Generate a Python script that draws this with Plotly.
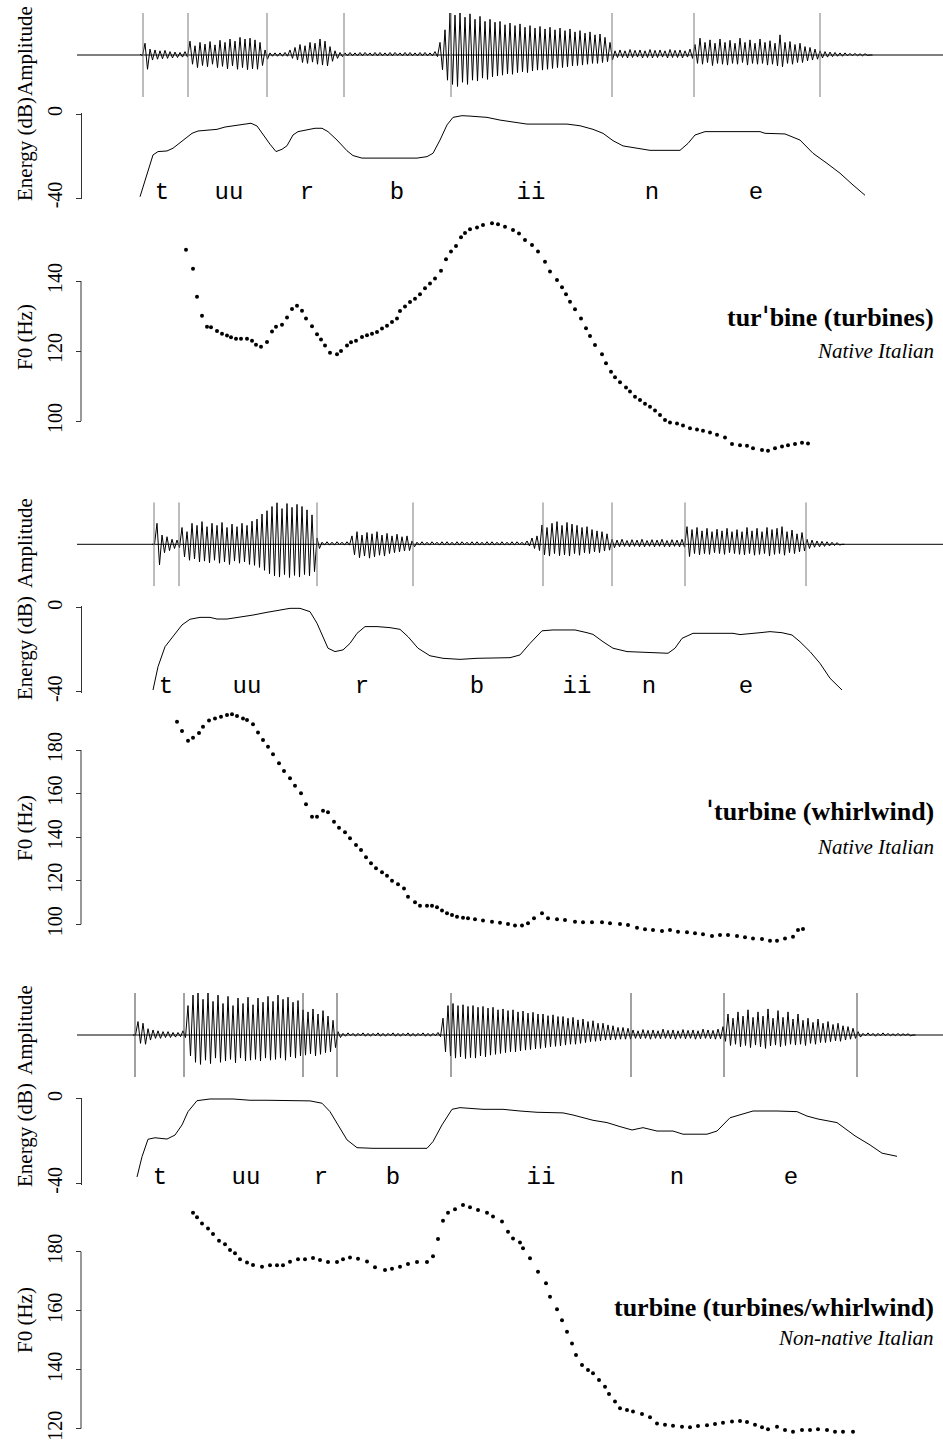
import plotly.graph_objects as go

W, H = 943, 1444

# ---------------- data ----------------
rec_span = [77, 943]                       # extent of each recording (time units)
seg_labels = ["t", "uu", "r", "b", "ii", "n", "e"]

# --- panel 1: tur'bine (turbines), native ---
wave1_t0 = 140
wave1 = [2,-2, 28,-34, 14,-12, 12,-10, 10,-9, 11,-8, 8,-7, 7,-6, 6,-5, 8,-5,
         33,-22, 22,-30, 30,-25, 26,-28, 32,-22, 24,-30, 35,-27, 30,-33, 38,-26, 33,-34,
         42,-30, 38,-35, 40,-33, 36,-34, 30,-25, 12,-10, 5,-3, 5,-3, 5,-3, 6,-3,
         12,-8, 18,-12, 25,-18, 22,-20, 30,-17, 28,-22, 38,-24, 33,-26, 20,-15, 10,-8,
         6,-4, 5,-2,
         6,-2, 5,-2, 6,-2, 6,-1, 5,-2, 6,-2, 6,-2, 5,-2, 6,-2, 6,-1, 5,-2, 6,-2, 6,-2, 5,-2, 6,-2, 6,-2, 5,-2, 8,-4,
         30,-35, 60,-60, 100,-70, 95,-75, 100,-65, 90,-70, 98,-60, 85,-62, 92,-55, 80,-58,
         85,-52, 78,-50, 80,-48, 72,-45, 76,-46, 70,-42, 74,-40, 66,-42, 70,-38, 64,-36,
         68,-36, 62,-34, 66,-32, 60,-30, 64,-30, 58,-28, 62,-26, 55,-25, 58,-24, 52,-22,
         55,-20, 48,-20, 50,-18, 42,-16, 30,-12, 10,-6,
         12,-6, 10,-7, 13,-6, 11,-5, 12,-7, 10,-6, 13,-7, 11,-6, 12,-5, 10,-7, 13,-6, 11,-6, 12,-7, 10,-5, 14,-8,
         25,-20, 40,-22, 30,-18, 36,-25, 28,-20, 38,-22, 30,-24, 35,-20, 28,-22, 40,-18,
         30,-24, 36,-20, 28,-22, 38,-20, 30,-24, 34,-22, 28,-26, 48,-28, 30,-20, 32,-22,
         25,-18, 28,-18, 20,-14, 18,-12, 14,-10, 10,-7, 8,-5, 7,-4, 6,-3, 5,-3,
         5,-2, 4,-2, 4,-2, 3,-2, 3,-1, 0,0]
bounds1 = [143, 188, 267, 344, 451, 612, 694, 820]
energy1_t = [140,147,153,158,167,173,183,192,198,208,217,225,235,245,251,257,263,270,276,282,
             287,293,298,307,315,322,328,337,347,353,362,383,417,427,433,440,447,453,462,470,
             487,500,513,527,547,567,580,593,603,613,623,637,650,667,680,688,695,705,727,760,
             765,785,800,813,827,840,853,865]
energy1_db = [-39.4,-28.2,-19.5,-17.9,-17.6,-16.3,-12.4,-9.2,-8.1,-7.8,-7.3,-6.2,-5.4,-4.8,-4.4,
              -5.7,-10.0,-14.4,-17.9,-16.8,-15.1,-10.0,-8.4,-7.6,-6.8,-6.8,-8.4,-12.4,-17.5,-19.8,
              -21.0,-21.0,-21.0,-20.3,-18.7,-12.4,-5.2,-1.6,-0.8,-1.0,-1.6,-2.9,-3.7,-4.8,-4.8,
              -4.8,-5.6,-7.3,-9.2,-12.7,-15.2,-16.3,-17.3,-17.3,-17.3,-14.0,-10.0,-8.4,-8.4,-8.4,
              -9.2,-9.5,-12.4,-18.7,-23.5,-28.2,-33.8,-38.7]
f0_1_t = [186,193,197,202,207,211,217,222,227,231,236,241,247,252,256,261,267,272,276,282,
          287,292,297,302,306,312,317,321,325,330,337,341,347,351,356,362,367,372,377,382,
          387,392,397,400,405,410,415,420,425,430,435,441,446,451,456,461,465,470,477,483,
          492,498,505,513,519,525,532,538,545,550,557,562,566,570,575,581,586,590,595,602,
          606,611,615,620,626,630,635,640,645,650,655,660,665,670,677,683,690,697,703,710,
          717,725,732,740,747,753,762,768,775,782,788,795,802,808]
f0_1_hz = [148.9,143.5,135.5,130.1,126.9,126.8,125.7,124.9,124.4,123.9,123.5,123.5,123.5,122.9,121.8,
           121.2,122.6,125.6,126.9,127.5,129.6,132.0,132.9,131.5,129.3,127.1,124.8,123.3,121.6,119.5,
           119.1,120.0,121.6,122.5,122.9,124.0,124.5,124.9,125.4,126.4,127.2,128.3,129.3,131.4,132.7,
           134.0,134.9,136.2,137.9,139.3,140.7,142.9,146.2,148.4,150.0,152.5,153.7,154.8,155.3,156.0,
           156.5,156.2,155.5,154.6,153.6,151.7,150.3,148.4,145.5,142.7,140.3,138.2,136.2,134.1,131.9,
           129.3,126.5,124.3,121.7,119.1,116.5,114.1,112.5,111.1,109.6,108.4,106.9,106.0,104.9,104.1,
           103.0,101.7,100.3,99.6,99.3,98.7,97.9,97.6,97.2,96.7,96.1,95.3,93.4,93.1,92.9,
           92.2,91.7,91.5,92.2,92.7,93.1,93.4,93.8,93.6]
seg1_t = [162, 229, 307, 397, 531, 652, 756]

# --- panel 2: 'turbine (whirlwind), native ---
wave2_t0 = 152
wave2 = [0,0, 50,-49, 22,-20, 18,-15, 12,-10, 10,-8,
         40,-30, 30,-38, 50,-35, 45,-42, 54,-40, 42,-44, 50,-38, 45,-45, 52,-42, 40,-48,
         48,-40, 42,-45, 50,-42, 45,-48, 55,-50, 60,-55, 72,-62, 80,-70, 90,-75, 99,-78,
         85,-72, 97,-79, 88,-74, 95,-78, 90,-72, 82,-75, 70,-65, 15,-10,
         5,-2, 6,-2, 5,-2, 6,-1, 5,-2, 6,-2,
         20,-25, 30,-32, 22,-28, 28,-33, 25,-30, 30,-26, 22,-28, 26,-22, 20,-20, 24,-18,
         18,-16, 20,-15, 8,-6,
         5,-2, 6,-2, 5,-2, 6,-1, 5,-2, 6,-2, 6,-2, 5,-2, 6,-2, 6,-1, 5,-2, 6,-2,
         6,-2, 5,-2, 6,-2, 6,-2, 5,-2, 6,-2, 5,-2, 6,-2, 6,-1, 5,-2, 8,-4,
         15,-10, 20,-15, 46,-25, 40,-28, 50,-22, 54,-27, 45,-25, 52,-28, 48,-22, 45,-26,
         40,-20, 42,-22, 35,-18, 32,-20, 30,-16, 25,-14, 12,-8,
         10,-6, 12,-5, 9,-6, 11,-5, 10,-6, 12,-6, 9,-5, 11,-6, 10,-5, 12,-6, 9,-6, 11,-5, 10,-6, 12,-7,
         42,-29, 35,-22, 40,-25, 32,-22, 38,-24, 30,-20, 36,-22, 32,-24, 38,-20, 30,-22,
         35,-24, 30,-25, 40,-22, 32,-26, 38,-24, 30,-22, 40,-28, 35,-24, 38,-22, 42,-26,
         30,-20, 34,-22, 25,-18, 28,-16,
         12,-10, 10,-7, 8,-6, 7,-5, 6,-4, 5,-3, 4,-2, 0,0]
bounds2 = [154, 179, 317, 413, 543, 612, 685, 806]
energy2_t = [153,158,165,173,182,190,200,210,217,227,240,253,267,280,290,300,310,317,323,328,
             335,343,350,357,365,377,390,400,408,418,430,443,460,477,510,520,530,542,553,575,
             587,593,603,613,627,640,653,668,675,682,693,713,733,740,750,760,770,782,792,800,
             810,820,830,842]
energy2_db = [-39.2,-28.1,-18.6,-13.8,-8.2,-5.5,-4.6,-4.6,-5.4,-5.4,-4.6,-3.5,-2.2,-1.1,-0.3,
              -0.3,-1.9,-7.4,-13.8,-19.3,-20.9,-20.1,-17.0,-12.2,-9.0,-9.0,-9.5,-10.3,-13.8,-19.3,
              -22.9,-24.1,-24.6,-24.1,-23.8,-22.5,-17.0,-11.0,-10.6,-10.6,-11.9,-12.7,-16.2,-19.3,-20.9,
              -21.2,-21.7,-21.7,-19.3,-14.6,-12.2,-12.2,-12.2,-12.8,-12.2,-11.9,-11.4,-11.9,-13.0,-16.2,
              -20.9,-26.5,-33.6,-39.2]
f0_2_t = [177,182,188,193,199,203,209,215,221,227,232,237,243,247,253,258,263,268,273,279,
          284,290,295,301,306,312,317,323,328,334,339,345,350,356,361,366,371,376,382,387,
          392,398,404,408,415,420,427,432,437,442,447,452,457,463,468,475,483,492,500,508,
          515,522,528,534,542,548,557,565,575,583,592,602,610,620,628,637,645,653,662,670,
          678,687,695,703,712,720,728,737,745,753,762,770,777,785,793,798,803]
f0_2_hz = [193.0,188.7,184.3,185.6,187.8,190.7,193.5,194.5,195.3,196.1,196.4,195.6,194.5,193.8,191.8,
           188.0,184.6,181.5,178.0,173.9,170.4,167.0,163.6,160.1,155.1,149.4,149.4,152.1,151.4,147.1,
           144.3,142.2,139.5,136.4,134.1,130.8,128.0,125.7,123.9,122.3,120.0,118.4,116.4,112.7,110.1,
           108.5,108.5,108.5,107.8,106.3,105.1,104.3,103.5,103.0,102.8,102.3,101.7,101.2,100.7,100.1,
           99.5,99.5,100.5,102.8,105.1,102.8,102.3,102.0,101.2,100.9,100.9,100.9,100.5,100.1,99.7,
           98.4,97.7,97.4,96.9,97.4,96.6,96.3,95.9,95.4,94.6,95.1,95.1,94.6,94.0,93.5,
           93.3,92.5,92.5,93.5,94.3,97.4,97.9]
seg2_t = [166, 247, 362, 477, 577, 649, 746]

# --- panel 3: turbine, non-native ---
wave3_t0 = 133
wave3 = [0,0, 32,-20, 28,-22, 15,-12, 12,-8, 10,-8, 8,-6, 8,-6, 6,-5, 6,-4, 10,-6,
         70,-50, 95,-65, 100,-70, 85,-60, 100,-68, 80,-55, 95,-65, 75,-62, 92,-58, 70,-66,
         88,-55, 75,-62, 90,-60, 72,-58, 88,-62, 78,-55, 92,-60, 80,-58, 95,-55, 85,-60,
         90,-52, 78,-55, 82,-50,
         60,-48, 55,-45, 62,-50, 50,-46, 58,-42, 45,-40, 35,-30, 8,-6,
         4,-3, 5,-2, 4,-3, 4,-2, 5,-3, 4,-3, 4,-2, 5,-3, 4,-3, 4,-2,
         5,-3, 4,-3, 4,-2, 5,-3, 4,-3, 4,-2, 5,-3, 4,-3, 4,-2, 6,-4,
         40,-40, 70,-50, 75,-55, 70,-52, 72,-56, 68,-54, 70,-55, 66,-50, 68,-52, 64,-48,
         66,-46, 60,-44, 62,-42, 58,-40, 60,-40, 55,-38, 57,-36, 52,-35, 54,-33, 50,-32,
         50,-30, 46,-28, 48,-27, 44,-26, 44,-24, 40,-22, 42,-22, 36,-20, 38,-18, 32,-16,
         34,-15, 28,-14, 28,-12, 24,-12, 22,-11, 18,-10, 18,-10, 16,-10,
         12,-8, 10,-9, 13,-8, 11,-10, 12,-8, 10,-9, 14,-8, 11,-9, 12,-10, 10,-8,
         13,-9, 11,-8, 12,-10, 10,-9, 14,-8, 12,-9, 11,-10, 14,-9,
         20,-15, 50,-25, 40,-22, 55,-28, 45,-25, 60,-30, 42,-24, 55,-28, 45,-32, 62,-26,
         40,-24, 58,-28, 42,-25, 55,-22, 38,-24, 50,-22, 35,-25, 40,-20, 30,-22, 38,-18,
         28,-18, 32,-16, 25,-14, 28,-15, 22,-12, 20,-10, 16,-8, 8,-5,
         4,-2, 5,-2, 4,-3, 4,-2, 5,-2, 4,-2, 3,-2, 4,-2, 3,-1, 3,-2,
         0,0]
bounds3 = [135, 184, 303, 337, 451, 631, 724, 857]
energy3_t = [137,142,148,155,167,175,182,188,197,210,233,250,267,290,310,322,330,338,347,357,
             373,400,427,433,442,452,460,483,503,520,537,563,573,593,607,620,632,643,657,673,
             683,707,717,730,753,777,797,807,818,837,855,870,882,897]
energy3_db = [-37.0,-27.4,-19.1,-18.4,-19.0,-17.1,-12.3,-6.0,-0.8,0.0,0.0,-0.6,-0.6,-0.6,-0.9,
              -2.0,-6.0,-12.3,-19.4,-23.1,-23.4,-23.4,-23.4,-20.2,-12.3,-4.9,-4.1,-4.9,-4.9,-5.7,
              -6.3,-6.6,-7.6,-10.1,-11.2,-13.1,-14.7,-13.6,-15.2,-15.2,-16.7,-16.7,-15.2,-8.9,-5.7,
              -5.7,-6.0,-8.1,-9.5,-11.2,-17.5,-21.8,-25.7,-27.2]
f0_3_t = [193,197,202,208,213,219,225,230,235,240,247,253,262,270,277,283,290,298,305,313,
          320,328,337,343,350,358,367,375,385,392,400,408,417,427,433,438,443,448,455,463,
          470,478,487,493,502,508,513,520,523,530,538,546,550,557,562,567,572,576,582,588,
          593,599,605,609,615,620,627,633,642,650,657,665,673,682,690,698,707,715,723,732,
          740,747,755,762,768,777,785,793,802,810,818,827,835,843,853]
f0_3_hz = [193.2,191.7,189.6,187.9,186.0,183.7,182.5,180.6,179.5,177.4,176.3,175.5,174.9,175.4,175.4,
           175.4,176.6,177.4,177.4,177.9,177.2,176.5,176.5,177.4,178.0,177.6,176.7,174.7,173.8,174.2,
           174.9,175.8,176.5,176.5,178.5,184.3,190.5,193.2,194.4,195.8,195.1,194.1,193.2,191.9,190.2,
           186.8,184.5,183.1,181.2,177.8,173.2,169.3,164.7,160.5,156.8,152.9,148.9,145.0,141.6,139.9,
           138.8,136.5,134.2,131.8,129.2,126.9,126.3,125.8,125.0,123.9,121.8,121.3,121.0,120.7,120.5,
           120.9,121.2,121.6,122.0,122.4,122.6,122.3,121.3,120.5,119.8,120.7,119.6,119.0,119.6,119.6,
           119.8,119.6,119.0,119.0,119.0]
seg3_t = [160, 246, 321, 393, 541, 677, 791]

titles = ["tur<span style='font-family:DejaVu Sans'>ˈ</span>bine (turbines)",
          "<span style='font-family:DejaVu Sans'>ˈ</span>turbine (whirlwind)",
          "turbine (turbines/whirlwind)"]
subtitles = ["Native Italian", "Native Italian", "Non-native Italian"]
f0_ticks = [[100, 120, 140], [100, 120, 140, 160, 180], [120, 140, 160, 180]]
energy_ticks = [-40, 0]

panels = [
    dict(t0=wave1_t0, wave=wave1, bounds=bounds1, et=energy1_t, edb=energy1_db,
         ft=f0_1_t, fhz=f0_1_hz, seg=seg1_t),
    dict(t0=wave2_t0, wave=wave2, bounds=bounds2, et=energy2_t, edb=energy2_db,
         ft=f0_2_t, fhz=f0_2_hz, seg=seg2_t),
    dict(t0=wave3_t0, wave=wave3, bounds=bounds3, et=energy3_t, edb=energy3_db,
         ft=f0_3_t, fhz=f0_3_hz, seg=seg3_t),
]

# ---------------- layout geometry (pixels from top) ----------------
# f0: (pixel of lowest tick, pixel of highest tick), f0_box: plotted region
geom = [
    dict(wave=(13, 97), energy=(114, 198), f0=(421, 281), f0_box=(212, 462),
         amp_lab=51, en_lab=149, f0_lab=337, title_y=317, sub_y=351, bcolor="#7a7a7a"),
    dict(wave=(502.3, 586.3), energy=(607.7, 691.7), f0=(924.3, 750), f0_box=(705, 950),
         amp_lab=543, en_lab=648, f0_lab=828, title_y=811, sub_y=847, bcolor="#7a7a7a"),
    dict(wave=(993, 1077), energy=(1099, 1183.3), f0=(1428.7, 1251.7), f0_box=(1196, 1442),
         amp_lab=1030, en_lab=1135, f0_lab=1320, title_y=1307, sub_y=1338, bcolor="#444444"),
]

SERIF = "Liberation Serif, Times New Roman, serif"
MONO = "Liberation Mono, Courier New, monospace"
AXIS_X = 81
WAVE_STEP = 2.5
E_PAD = 0.6
SEG_Y = -37.7
AX_COLOR = "#333333"


def dom(top, bot):
    return [1 - bot / H, 1 - top / H]


def yname(k):
    return "y" if k == 1 else f"y{k}"


def ylayname(k):
    return "yaxis" if k == 1 else f"yaxis{k}"


fig = go.Figure()
layout = dict(
    width=W, height=H, margin=dict(l=0, r=0, t=0, b=0, pad=0, autoexpand=False),
    autosize=False,
    paper_bgcolor="white", plot_bgcolor="rgba(0,0,0,0)", showlegend=False,
    xaxis=dict(domain=[0, 1], range=[0, W], visible=False, anchor="y", fixedrange=True),
    annotations=[], shapes=[],
)

axis_style = dict(
    anchor="free", position=AXIS_X / W, linecolor=AX_COLOR, linewidth=1,
    ticks="outside", ticklen=5, tickcolor=AX_COLOR, tickwidth=1, tickangle=-90,
    tickfont=dict(family=SERIF, size=20, color="black"), showgrid=False, zeroline=False,
    ticklabelstandoff=6, fixedrange=True, automargin=False,
)

for i, (p, g) in enumerate(zip(panels, geom)):
    kw, ke, kf = 3 * i + 1, 3 * i + 2, 3 * i + 3

    # waveform axis
    layout[ylayname(kw)] = dict(domain=dom(*g["wave"]), range=[-100, 100], visible=False,
                                anchor="x", fixedrange=True)
    # energy axis (padded slightly so the 0 dB plateau is not clipped)
    etop, ebot = g["energy"]
    ppd = (ebot - etop) / 40.0
    layout[ylayname(ke)] = dict(domain=dom(etop - E_PAD * ppd, ebot + E_PAD * ppd),
                                range=[-40 - E_PAD, E_PAD], tickvals=energy_ticks,
                                ticktext=[str(v) for v in energy_ticks], showline=True,
                                **axis_style)
    # F0 axis: plotted region larger than the tick span; axis line drawn over tick span
    ft = f0_ticks[i]
    lo_px, hi_px = g["f0"]
    pph = (lo_px - hi_px) / (ft[-1] - ft[0])
    btop, bbot = g["f0_box"]
    rng = [ft[0] - (bbot - lo_px) / pph, ft[-1] + (hi_px - btop) / pph]
    layout[ylayname(kf)] = dict(domain=dom(btop, bbot), range=rng, tickvals=ft,
                                ticktext=[str(v) for v in ft], showline=False, **axis_style)
    layout["shapes"].append(dict(type="line", xref="paper", yref=yname(kf),
                                 x0=AXIS_X / W, x1=AXIS_X / W, y0=ft[0], y1=ft[-1],
                                 line=dict(color=AX_COLOR, width=1)))

    # zero line of the waveform
    fig.add_trace(go.Scatter(x=rec_span, y=[0, 0], mode="lines", xaxis="x", yaxis=yname(kw),
                             line=dict(color="black", width=1), hoverinfo="skip"))
    # waveform
    xs = [p["t0"] + k * WAVE_STEP for k in range(len(p["wave"]))]
    fig.add_trace(go.Scatter(x=xs, y=p["wave"], mode="lines", xaxis="x", yaxis=yname(kw),
                             line=dict(color="black", width=1), hoverinfo="skip"))
    # segment boundaries
    bx, by = [], []
    for b in p["bounds"]:
        bx += [b, b, None]
        by += [-100, 100, None]
    fig.add_trace(go.Scatter(x=bx, y=by, mode="lines", xaxis="x", yaxis=yname(kw),
                             line=dict(color=g["bcolor"], width=1), hoverinfo="skip"))
    # energy curve
    fig.add_trace(go.Scatter(x=p["et"], y=p["edb"], mode="lines", xaxis="x", yaxis=yname(ke),
                             line=dict(color="black", width=1), hoverinfo="skip"))
    # segment labels
    fig.add_trace(go.Scatter(x=p["seg"], y=[SEG_Y] * len(p["seg"]), mode="text",
                             text=seg_labels, textposition="middle center", cliponaxis=False,
                             textfont=dict(family=MONO, size=24, color="black"),
                             xaxis="x", yaxis=yname(ke), hoverinfo="skip"))
    # F0 points
    fig.add_trace(go.Scatter(x=p["ft"], y=p["fhz"], mode="markers",
                             marker=dict(symbol="circle", size=4, color="black",
                                         line=dict(width=0)),
                             xaxis="x", yaxis=yname(kf), hoverinfo="skip"))

    # axis titles
    for text, yc in (("Amplitude", g["amp_lab"]), ("Energy (dB)", g["en_lab"]),
                     ("F0 (Hz)", g["f0_lab"])):
        layout["annotations"].append(dict(
            text=text, x=25 / W, y=1 - yc / H, xref="paper", yref="paper",
            xanchor="center", yanchor="middle", textangle=-90, showarrow=False,
            font=dict(family=SERIF, size=21, color="black")))
    # panel titles
    layout["annotations"].append(dict(
        text="<b>" + titles[i] + "</b>", x=936 / W, y=1 - g["title_y"] / H, xref="paper",
        yref="paper", xanchor="right", yanchor="middle", showarrow=False,
        font=dict(family=SERIF, size=26, color="black")))
    layout["annotations"].append(dict(
        text="<i>" + subtitles[i] + "</i>", x=936 / W, y=1 - g["sub_y"] / H, xref="paper",
        yref="paper", xanchor="right", yanchor="middle", showarrow=False,
        font=dict(family=SERIF, size=21, color="black")))

fig.update_layout(**layout)
fig.write_html("out.html")
